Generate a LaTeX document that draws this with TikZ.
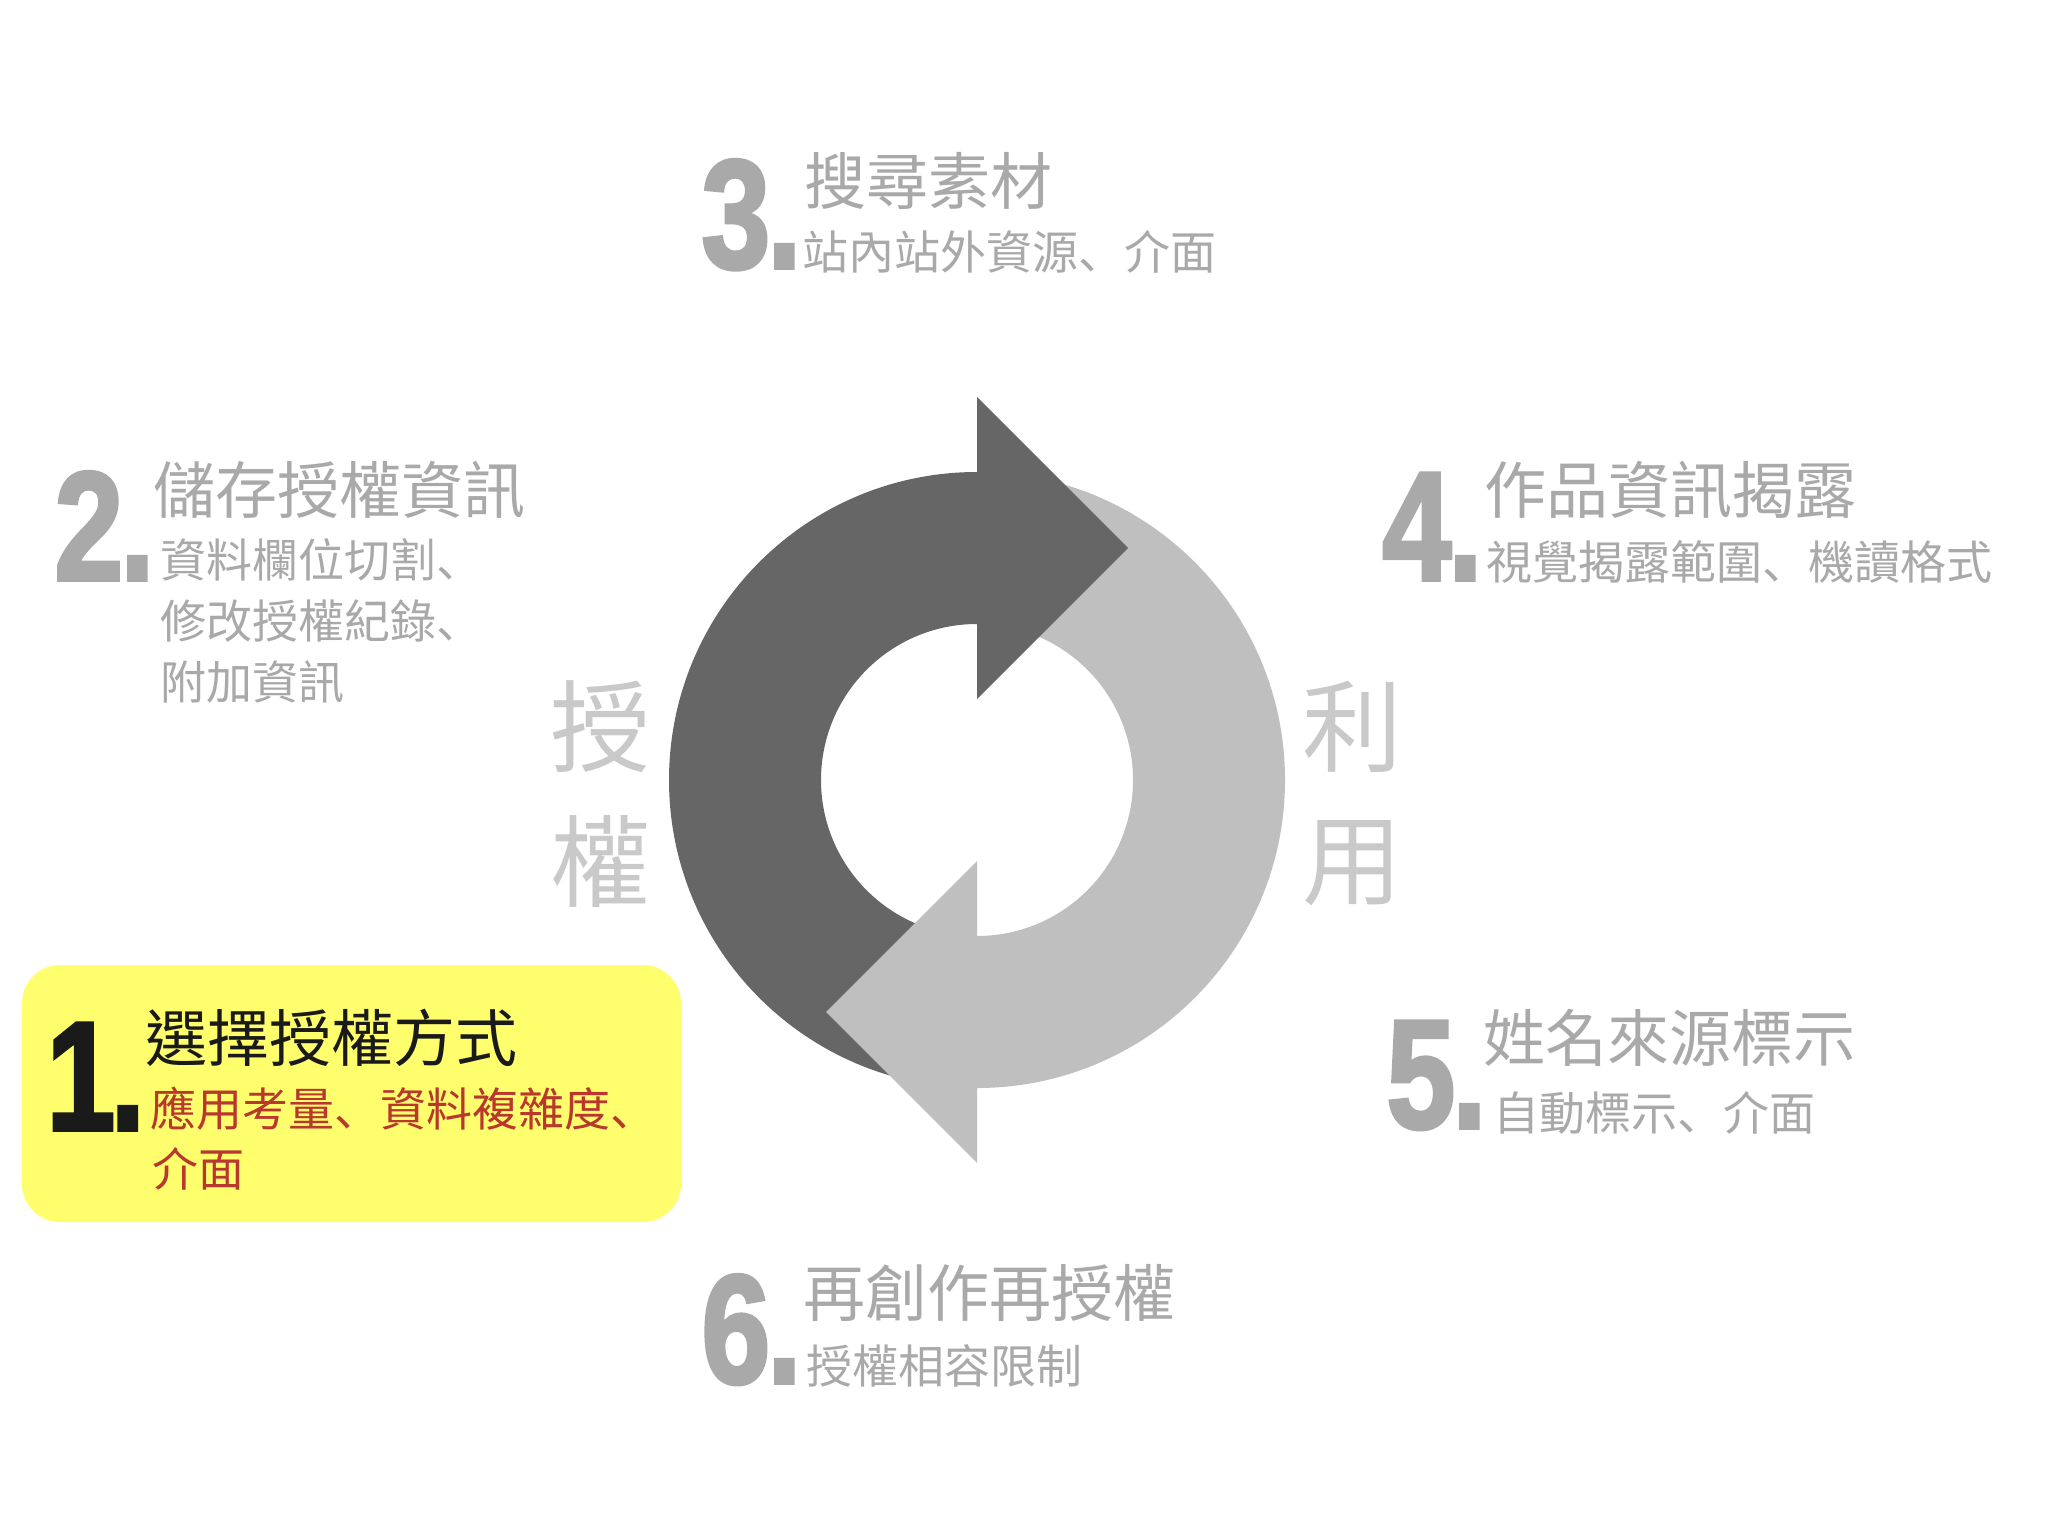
\documentclass[tikz,border=0pt]{standalone}
\usepackage{fontspec}
\usepackage{graphicx}
\setmainfont{Noto Sans CJK TC}
\newfontfamily\scp{Noto Sans CJK SC}
\newfontfamily\numfont{Liberation Sans}[BoldFeatures={FakeBold=2.5}]
\newcommand\dun{{\scp 、}}
\newcommand\bignum[2][-2pt]{\scalebox{0.8}[1]{\numfont\bfseries\fontsize{77.5}{77.5}\selectfont #2\kern#1.\kern-5pt}}
\definecolor{dk}{HTML}{666666}
\definecolor{lt}{HTML}{BFBFBF}
\definecolor{tg}{HTML}{A9A9A9}
\definecolor{sg}{HTML}{C9C9C9}
\definecolor{yb}{HTML}{FFFF6E}
\definecolor{rd}{HTML}{B8382E}
\definecolor{bk}{HTML}{1A1A1A}
\begin{document}
\begin{tikzpicture}[x=0.5pt,y=-0.5pt,
  titletext/.style={anchor=west,inner sep=0pt,font=\fontsize{31}{31}\selectfont,text=tg},
  subtext/.style={anchor=west,inner sep=0pt,font=\fontsize{23}{23}\selectfont,text=tg},
  numtext/.style={anchor=base west,inner sep=0pt,text=tg},
  sidetext/.style={anchor=center,inner sep=0pt,font=\fontsize{50}{50}\selectfont,text=sg}]
\useasboundingbox (0,0) rectangle (2048,1535);
\fill[white] (0,0) rectangle (2048,1535);
% cycle arrows
\fill[dk] (977,472) arc[start angle=270,end angle=90,radius=308] -- (977,936) arc[start angle=90,end angle=270,radius=156] -- cycle;
\fill[lt] (977,1088) arc[start angle=90,end angle=-90,radius=308] -- (977,624) arc[start angle=-90,end angle=90,radius=156] -- cycle;
\fill[dk] (977,397) -- (1128,548) -- (977,699) -- cycle;
\fill[lt] (977,1163) -- (826,1012) -- (977,861) -- cycle;
% side labels
\node[sidetext] (s1) at (600,727) {授};
\node[sidetext] (s2) at (600,861) {權};
\node[sidetext] (s3) at (1352,727) {利};
\node[sidetext] (s4) at (1352,863) {用};
% item 1
\fill[yb,rounded corners=19pt] (22,965) rectangle (681,1222);
\node[numtext,text=bk] (n1) at (46,1130) {\bignum[-3pt]{1}};
\node[titletext,text=bk] (t1) at (145,1038) {選擇授權方式};
\node[subtext,text=rd] (a1) at (150,1109) {應用考量\dun 資料複雜度\dun};
\node[subtext,text=rd] (b1) at (152,1169) {介面};
% item 2
\node[numtext] (n2) at (54,580) {\bignum{2}};
\node[titletext] (t2) at (153,490) {儲存授權資訊};
\node[subtext] (a2) at (160,560) {資料欄位切割\dun};
\node[subtext] (b2) at (160,621) {修改授權紀錄\dun};
\node[subtext] (c2) at (160,682) {附加資訊};
% item 3
\node[numtext] (n3) at (701,268) {\bignum{3}};
\node[titletext] (t3) at (804,181) {搜尋素材};
\node[subtext] (a3) at (802,252) {站內站外資源\dun 介面};
% item 4
\node[numtext] (n4) at (1382,580) {\bignum{4}};
\node[titletext] (t4) at (1484,490) {作品資訊揭露};
\node[subtext] (a4) at (1486,562) {視覺揭露範圍\dun 機讀格式};
% item 5
\node[numtext] (n5) at (1386,1128) {\bignum{5}};
\node[titletext] (t5) at (1483,1038) {姓名來源標示};
\node[subtext] (a5) at (1493,1113) {自動標示\dun 介面};
% item 6
\node[numtext] (n6) at (701,1383) {\bignum{6}};
\node[titletext] (t6) at (803,1293) {再創作再授權};
\node[subtext] (a6) at (806,1366) {授權相容限制};
\end{tikzpicture}
\end{document}
